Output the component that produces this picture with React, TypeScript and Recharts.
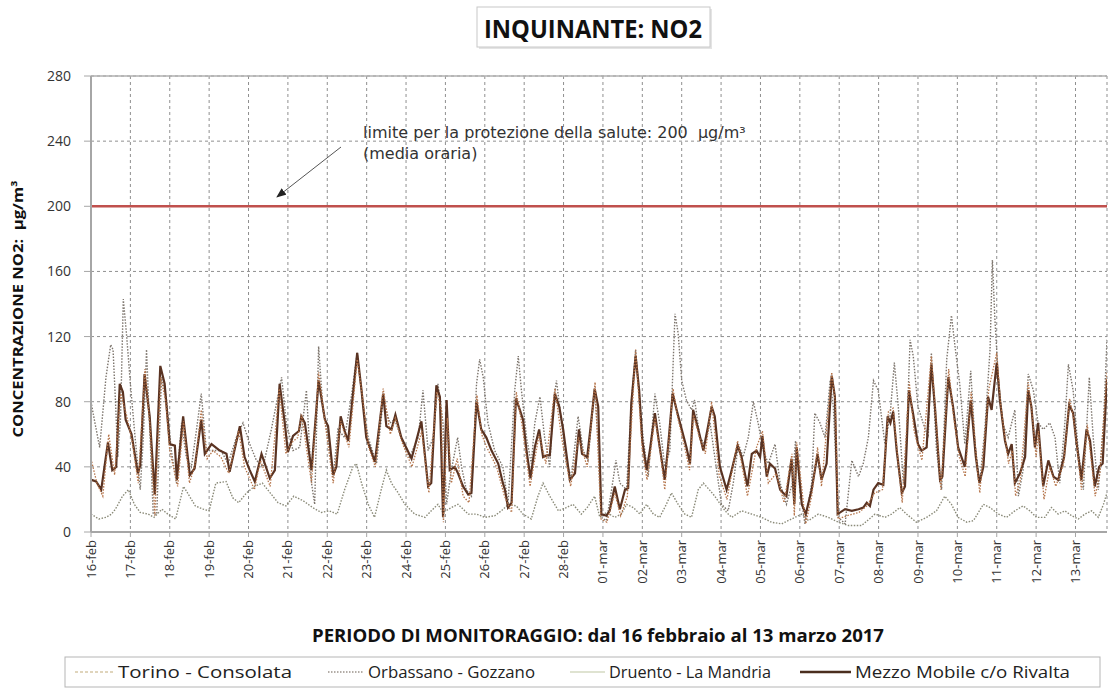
import React from "react";
import { LineChart, Line, XAxis, YAxis, CartesianGrid, ReferenceLine } from "recharts";

// ---- tick labels (one per day) ----
const dayLabels = [
  "16-feb", "17-feb", "18-feb", "19-feb", "20-feb", "21-feb", "22-feb", "23-feb", "24-feb",
  "25-feb", "26-feb", "27-feb", "28-feb", "01-mar", "02-mar", "03-mar", "04-mar", "05-mar",
  "06-mar", "07-mar", "08-mar", "09-mar", "10-mar", "11-mar", "12-mar", "13-mar",
];
const yTicks = [0, 40, 80, 120, 160, 200, 240, 280];
const limitValue = 200;

// ---- series: [day offset from 16-feb 00:00, NO2 µg/m³] ----
const mezzo: [number, number][] = [
  [0.01, 32], [0.13, 31], [0.26, 26], [0.43, 55], [0.54, 38], [0.64, 40], [0.73, 91], [0.81, 86], [0.88, 69],
  [1.03, 60], [1.11, 48], [1.19, 36], [1.25, 41], [1.36, 97], [1.49, 71], [1.62, 23], [1.76, 102], [1.87, 91],
  [2.0, 54], [2.13, 53], [2.18, 32], [2.34, 71], [2.51, 35], [2.63, 39], [2.8, 69], [2.89, 48],
  [3.06, 54], [3.27, 50], [3.44, 48], [3.52, 37], [3.78, 65], [3.9, 46],
  [4.03, 38], [4.16, 31], [4.33, 48], [4.54, 33], [4.67, 38], [4.79, 91], [4.92, 67],
  [5.0, 49], [5.13, 59], [5.28, 62], [5.34, 71], [5.43, 67], [5.6, 38], [5.78, 93], [5.94, 69],
  [6.02, 65], [6.15, 35], [6.23, 40], [6.34, 71], [6.44, 62], [6.53, 56], [6.76, 110], [6.87, 87], [6.99, 58],
  [7.21, 43], [7.42, 85], [7.5, 65], [7.63, 63], [7.73, 72], [7.88, 58],
  [8.14, 45], [8.39, 68], [8.56, 28], [8.64, 30], [8.77, 90], [8.86, 83], [8.94, 9],
  [9.03, 81], [9.11, 38], [9.24, 40], [9.32, 36], [9.45, 28], [9.58, 23], [9.66, 24], [9.79, 80], [9.91, 63],
  [10.04, 58], [10.17, 50], [10.34, 42], [10.46, 30], [10.51, 26], [10.59, 15], [10.68, 18], [10.79, 82], [10.89, 75], [10.97, 69],
  [11.06, 50], [11.16, 33], [11.27, 52], [11.38, 63], [11.48, 46], [11.57, 47], [11.65, 47], [11.78, 85], [11.89, 77], [11.99, 63],
  [12.16, 32], [12.29, 36], [12.39, 63], [12.47, 48], [12.6, 46], [12.68, 63], [12.79, 88], [12.88, 77], [12.96, 11],
  [13.09, 10], [13.17, 13], [13.3, 28], [13.43, 14], [13.56, 26], [13.64, 27], [13.72, 79], [13.83, 108], [13.92, 87],
  [14.0, 56], [14.11, 38], [14.19, 50], [14.32, 73], [14.43, 54], [14.57, 32], [14.66, 54], [14.77, 85], [14.87, 75],
  [15.0, 63], [15.12, 52], [15.21, 42], [15.29, 75], [15.42, 63], [15.55, 50], [15.67, 65], [15.76, 77], [15.84, 71], [15.97, 40],
  [16.14, 26], [16.27, 38], [16.42, 53], [16.52, 46], [16.67, 28], [16.78, 48], [16.9, 50], [16.99, 46],
  [17.05, 59], [17.16, 34], [17.24, 42], [17.37, 39], [17.5, 26], [17.66, 22], [17.79, 45], [17.86, 17], [17.92, 52],
  [18.05, 17], [18.15, 11], [18.3, 26], [18.45, 48], [18.55, 32], [18.68, 42], [18.81, 96], [18.89, 83], [18.96, 11],
  [19.15, 14], [19.32, 13], [19.49, 14], [19.61, 15], [19.7, 18], [19.78, 16], [19.87, 26], [19.99, 30],
  [20.12, 29], [20.23, 71], [20.3, 67], [20.37, 74], [20.46, 50], [20.59, 24], [20.67, 28], [20.77, 87], [20.88, 72],
  [21.0, 54], [21.09, 50], [21.22, 52], [21.34, 103], [21.43, 77], [21.56, 32], [21.62, 34], [21.77, 95], [21.89, 77],
  [22.02, 52], [22.19, 40], [22.34, 81], [22.47, 46], [22.56, 30], [22.66, 40], [22.78, 83], [22.87, 75],
  [23.0, 104], [23.08, 81], [23.21, 56], [23.29, 48], [23.38, 54], [23.46, 30], [23.59, 36], [23.72, 46], [23.8, 87], [23.88, 77], [23.97, 52],
  [24.05, 67], [24.18, 28], [24.31, 44], [24.44, 34], [24.56, 32], [24.71, 46], [24.84, 78], [24.94, 73],
  [25.01, 58], [25.15, 32], [25.28, 63], [25.37, 56], [25.49, 28], [25.6, 40], [25.69, 42], [25.8, 94],
];

const torino: [number, number][] = [
  [0, 45], [0.15, 30], [0.3, 22], [0.45, 60], [0.6, 35], [0.75, 85], [0.9, 72], [1.05, 55], [1.2, 30], [1.37, 100],
  [1.5, 65], [1.62, 10], [1.77, 95], [1.9, 80], [2.0, 50], [2.2, 28], [2.35, 68], [2.5, 30], [2.65, 42], [2.8, 75],
  [2.95, 45], [3.1, 50], [3.3, 46], [3.5, 36], [3.75, 62], [3.9, 40], [4.15, 26], [4.3, 44], [4.55, 28], [4.78, 88],
  [4.95, 48], [5.1, 55], [5.25, 58], [5.35, 72], [5.6, 30], [5.78, 98], [5.95, 66], [6.15, 30], [6.34, 68], [6.55, 52],
  [6.76, 106], [6.9, 82], [7.05, 52], [7.22, 40], [7.42, 88], [7.6, 60], [7.73, 70], [7.9, 55], [8.15, 40], [8.4, 62],
  [8.58, 24], [8.78, 86], [8.9, 75], [8.95, 6], [9.05, 70], [9.15, 30], [9.3, 45], [9.45, 22], [9.6, 18], [9.8, 84],
  [9.92, 60], [10.05, 52], [10.3, 40], [10.5, 22], [10.68, 12], [10.8, 86], [10.95, 65], [11.15, 28], [11.38, 60],
  [11.55, 42], [11.78, 88], [11.95, 58], [12.18, 28], [12.38, 58], [12.6, 40], [12.8, 92], [12.95, 8], [13.1, 6],
  [13.3, 24], [13.45, 10], [13.62, 22], [13.83, 112], [14.0, 50], [14.12, 32], [14.32, 70], [14.45, 50], [14.57, 26],
  [14.78, 88], [14.9, 70], [15.05, 55], [15.2, 38], [15.3, 72], [15.45, 58], [15.6, 48], [15.76, 80], [15.95, 35],
  [16.15, 20], [16.42, 56], [16.67, 22], [16.9, 52], [17.05, 62], [17.2, 30], [17.4, 36], [17.6, 18], [17.8, 48],
  [17.86, 10], [17.92, 55], [18.15, 5], [18.3, 22], [18.45, 52], [18.55, 28], [18.81, 98], [18.9, 80], [18.97, 8],
  [19.2, 10], [19.5, 12], [19.7, 16], [19.9, 24], [20.1, 26], [20.25, 74], [20.37, 76], [20.5, 42], [20.6, 18],
  [20.78, 92], [20.9, 62], [21.1, 44], [21.34, 108], [21.45, 72], [21.58, 26], [21.78, 100], [21.9, 72], [22.05, 46],
  [22.2, 34], [22.35, 86], [22.5, 40], [22.57, 24], [22.8, 88], [23.0, 110], [23.1, 78], [23.3, 42], [23.4, 50],
  [23.48, 22], [23.6, 32], [23.8, 92], [23.9, 72], [24.0, 46], [24.06, 62], [24.2, 20], [24.35, 40], [24.5, 28],
  [24.7, 42], [24.85, 82], [24.95, 70], [25.05, 50], [25.15, 26], [25.3, 66], [25.5, 22], [25.62, 36], [25.8, 98],
];

const orbassano: [number, number][] = [
  [0, 80], [0.1, 67], [0.22, 52], [0.38, 95], [0.5, 115], [0.56, 112], [0.62, 81], [0.68, 46], [0.75, 70], [0.82, 143],
  [0.9, 122], [1.0, 91], [1.12, 58], [1.25, 26], [1.33, 58], [1.41, 112], [1.5, 58], [1.58, 11], [1.67, 11], [1.79, 95],
  [1.91, 83], [2.04, 50], [2.17, 30], [2.3, 67], [2.42, 46], [2.55, 40], [2.68, 63], [2.8, 85], [2.93, 50], [3.1, 50],
  [3.3, 50], [3.48, 42], [3.69, 58], [3.86, 67], [4.03, 54], [4.2, 44], [4.37, 40], [4.58, 63], [4.71, 79], [4.84, 95],
  [4.96, 67], [5.13, 50], [5.3, 52], [5.47, 87], [5.6, 30], [5.68, 17], [5.78, 114], [5.89, 75], [6.02, 58], [6.15, 34],
  [6.27, 63], [6.44, 58], [6.61, 83], [6.76, 110], [6.91, 77], [7.04, 58], [7.25, 42], [7.42, 81], [7.59, 67], [7.71, 69],
  [7.88, 58], [8.09, 46], [8.31, 58], [8.43, 87], [8.56, 50], [8.69, 58], [8.81, 91], [8.94, 67], [9.03, 17], [9.15, 38],
  [9.31, 58], [9.41, 40], [9.53, 26], [9.66, 22], [9.79, 91], [9.87, 106], [9.96, 95], [10.08, 67], [10.25, 50], [10.46, 40],
  [10.59, 17], [10.76, 87], [10.85, 108], [10.93, 87], [11.06, 58], [11.18, 42], [11.27, 67], [11.4, 83], [11.52, 58],
  [11.65, 40], [11.73, 77], [11.82, 93], [11.95, 67], [12.07, 42], [12.2, 34], [12.37, 71], [12.5, 50], [12.62, 44],
  [12.79, 87], [12.88, 54], [12.96, 9], [13.09, 7], [13.22, 26], [13.33, 44], [13.43, 30], [13.6, 26], [13.72, 79],
  [13.83, 112], [13.94, 79], [14.02, 58], [14.15, 34], [14.32, 85], [14.44, 67], [14.57, 40], [14.7, 50], [14.83, 134],
  [14.91, 122], [15.0, 93], [15.12, 81], [15.25, 75], [15.33, 81], [15.46, 58], [15.59, 54], [15.72, 67], [15.84, 46],
  [16.01, 17], [16.18, 13], [16.31, 30], [16.44, 54], [16.56, 46], [16.69, 58], [16.82, 80], [16.94, 67], [17.07, 50],
  [17.2, 42], [17.37, 54], [17.5, 30], [17.66, 17], [17.81, 30], [17.89, 56], [18.0, 26], [18.13, 5], [18.3, 30],
  [18.38, 73], [18.51, 67], [18.64, 58], [18.77, 93], [18.85, 77], [18.98, 9], [19.15, 5], [19.32, 44], [19.49, 34],
  [19.61, 42], [19.74, 58], [19.87, 93], [19.99, 87], [20.16, 54], [20.29, 71], [20.4, 104], [20.5, 77], [20.63, 30],
  [20.71, 58], [20.8, 118], [20.88, 108], [21.0, 77], [21.13, 67], [21.26, 58], [21.34, 110], [21.47, 50], [21.6, 26],
  [21.73, 106], [21.85, 133], [21.94, 114], [22.06, 91], [22.19, 54], [22.34, 99], [22.45, 54], [22.57, 30], [22.7, 64],
  [22.83, 112], [22.89, 167], [22.95, 132], [23.04, 95], [23.16, 66], [23.29, 58], [23.46, 75], [23.55, 22], [23.67, 38],
  [23.8, 97], [23.93, 87], [24.05, 67], [24.18, 63], [24.35, 67], [24.48, 58], [24.6, 30], [24.73, 67], [24.82, 103],
  [24.94, 87], [25.07, 50], [25.2, 26], [25.35, 95], [25.45, 58], [25.58, 26], [25.71, 67], [25.8, 118],
];

const druento: [number, number][] = [
  [0, 11], [0.2, 8], [0.38, 9], [0.52, 11], [0.62, 14], [0.8, 22], [0.95, 26], [1.1, 17], [1.25, 12], [1.45, 11],
  [1.6, 9], [1.8, 14], [1.95, 11], [2.15, 8], [2.35, 28], [2.5, 22], [2.65, 16], [2.85, 14], [3.0, 13], [3.17, 30],
  [3.43, 31], [3.6, 21], [3.75, 18], [3.95, 24], [4.15, 28], [4.35, 30], [4.55, 24], [4.75, 18], [4.95, 16], [5.15, 22],
  [5.4, 19], [5.63, 15], [5.85, 12], [6.05, 13], [6.25, 11], [6.44, 26], [6.65, 40], [6.74, 42], [6.87, 30], [7.04, 17],
  [7.2, 9], [7.37, 26], [7.5, 38], [7.63, 30], [7.8, 24], [7.97, 17], [8.22, 11], [8.48, 9], [8.64, 13], [8.81, 17],
  [8.94, 12], [9.15, 15], [9.32, 17], [9.58, 11], [9.79, 11], [10.0, 9], [10.25, 10], [10.42, 13], [10.6, 17], [10.8, 16],
  [10.97, 11], [11.18, 8], [11.35, 22], [11.48, 30], [11.65, 22], [11.87, 13], [12.07, 15], [12.24, 17], [12.45, 11],
  [12.6, 15], [12.79, 22], [12.92, 9], [13.09, 12], [13.3, 9], [13.47, 11], [13.6, 17], [13.77, 15], [13.94, 11],
  [14.11, 17], [14.28, 11], [14.44, 9], [14.61, 17], [14.74, 24], [14.91, 17], [15.08, 11], [15.25, 9], [15.42, 26],
  [15.55, 30], [15.7, 26], [15.84, 22], [16.1, 13], [16.27, 9], [16.52, 13], [16.78, 11], [17.03, 9], [17.28, 6],
  [17.54, 5], [17.79, 8], [18.05, 11], [18.22, 7], [18.47, 11], [18.72, 9], [18.98, 6], [19.23, 4], [19.57, 4],
  [19.91, 11], [20.16, 9], [20.33, 11], [20.54, 15], [20.71, 11], [20.96, 6], [21.22, 9], [21.47, 13], [21.68, 22],
  [21.85, 17], [22.02, 9], [22.24, 6], [22.41, 7], [22.66, 17], [22.83, 15], [23.04, 11], [23.25, 9], [23.46, 13],
  [23.67, 16], [23.84, 13], [24.01, 9], [24.22, 9], [24.39, 15], [24.56, 11], [24.73, 13], [24.9, 10], [25.07, 8],
  [25.24, 11], [25.41, 13], [25.58, 9], [25.71, 17], [25.8, 24],
];

const toRows = (s: [number, number][]) => s.map(([d, v]) => ({ d, v }));
const dayTicks = dayLabels.map((_, i) => i);

const FONT = "'Open Sans', 'Noto Sans', sans-serif";
const NARROW = "'Liberation Sans Narrow', 'Open Sans', sans-serif";

const XTick = (props: any) => {
  const { x, y, payload } = props;
  return (
    <text
      x={x}
      y={y}
      transform={`rotate(-90, ${x}, ${y})`}
      textAnchor="end"
      dy="0.35em"
      fontSize={13}
      fontFamily={FONT}
      fill="#333"
    >
      {dayLabels[payload.value]}
    </text>
  );
};

const legendItems = [
  { name: "Torino - Consolata", color: "#d6c8a6", dash: "3 2", w: 1.5, lx: 75, tx: 118, tl: 174 },
  { name: "Orbassano - Gozzano", color: "#9a928a", dash: "1.5 1.5", w: 1.5, lx: 328, tx: 368, tl: 167 },
  { name: "Druento - La Mandria", color: "#d4dac2", dash: "", w: 1.5, lx: 570, tx: 609, tl: 162 },
  { name: "Mezzo Mobile c/o Rivalta", color: "#4a2e1e", dash: "", w: 2.5, lx: 800, tx: 855, tl: 215 },
];

export default function App() {
  return (
    <div style={{ position: "absolute", left: 0, top: 0, width: 1108, height: 690, background: "#fff" }}>
      <LineChart width={1108} height={690} margin={{ top: 76, right: 1, bottom: 98, left: 41 }}>
        <CartesianGrid stroke="#8f8f8f" strokeDasharray="3 3" strokeWidth={1} />
        <XAxis
          type="number"
          dataKey="d"
          domain={[0, 25.8]}
          allowDataOverflow
          ticks={dayTicks}
          interval={0}
          height={60}
          tick={<XTick />}
          tickSize={5}
          tickMargin={3}
          axisLine={{ stroke: "#a6a6a6", strokeWidth: 2 }}
          tickLine={{ stroke: "#a6a6a6" }}
        />
        <YAxis
          type="number"
          domain={[0, 280]}
          ticks={yTicks}
          width={50}
          tickSize={7}
          tickMargin={13}
          axisLine={{ stroke: "#a6a6a6", strokeWidth: 2 }}
          tickLine={{ stroke: "#a6a6a6" }}
          tick={{ fontSize: 14, fontFamily: FONT, fill: "#333" }}
        />
        <ReferenceLine y={280} stroke="#b0b0b0" strokeWidth={1.5} />
        <ReferenceLine y={limitValue} stroke="#c0504d" strokeWidth={2.5} />
        <Line data={toRows(druento)} dataKey="v" stroke="#8a8a78" strokeWidth={1.4} strokeDasharray="1.5 1.5" dot={false} isAnimationActive={false} />
        <Line data={toRows(orbassano)} dataKey="v" stroke="#7d756d" strokeWidth={1.4} strokeDasharray="1.5 1.5" dot={false} isAnimationActive={false} />
        <Line data={toRows(mezzo)} dataKey="v" stroke="#5a3322" strokeWidth={2.2} dot={false} isAnimationActive={false} />
        <Line data={toRows(torino)} dataKey="v" stroke="#b5744a" strokeWidth={1.3} strokeDasharray="1.5 1.5" dot={false} isAnimationActive={false} />
      </LineChart>

      <svg
        width={1108}
        height={690}
        style={{ position: "absolute", left: 0, top: 0, pointerEvents: "none" }}
      >
        <defs>
          <marker id="arr" markerWidth="10" markerHeight="8" refX="9" refY="4" orient="auto" markerUnits="userSpaceOnUse">
            <path d="M0,0 L10,4 L0,8 z" fill="#222" />
          </marker>
        </defs>
        {/* title box */}
        <rect x={479} y={9} width={233} height={40} fill="#e4e4e4" />
        <rect x={477} y={7} width={233} height={40} fill="#fff" stroke="#c8c8c8" strokeWidth={1} />
        <text x={593} y={38} textAnchor="middle" fontFamily={NARROW} fontWeight="bold" fontSize={25} fill="#111"
          textLength={218} lengthAdjust="spacingAndGlyphs">
          INQUINANTE: NO2
        </text>

        {/* annotation */}
        <text x={363} y={138} fontFamily="'DejaVu Sans', sans-serif" fontSize={16} fill="#333" xmlSpace="preserve">
          {"limite per la protezione della salute: 200  µg/m³"}
        </text>
        <text x={363} y={159} fontFamily="'DejaVu Sans', sans-serif" fontSize={16} fill="#333">
          (media oraria)
        </text>
        <line x1={341} y1={147} x2={277} y2={197} stroke="#555" strokeWidth={1} markerEnd="url(#arr)" />

        {/* y axis title */}
        <text x={0} y={0} transform="translate(23, 309) rotate(-90)" textAnchor="middle" fontFamily={NARROW}
          fontWeight="bold" fontSize={14} fill="#111" textLength={257} lengthAdjust="spacingAndGlyphs" xmlSpace="preserve">
          {"CONCENTRAZIONE NO2:  µg/m³"}
        </text>

        {/* x axis title */}
        <text x={598} y={642} textAnchor="middle" fontFamily={NARROW} fontWeight="bold" fontSize={18} fill="#111"
          textLength={572} lengthAdjust="spacingAndGlyphs">
          PERIODO DI MONITORAGGIO: dal 16 febbraio al 13 marzo 2017
        </text>

        {/* legend */}
        <rect x={65} y={657} width={1035} height={30} fill="#fff" stroke="#b5b5b5" strokeWidth={1} />
        {legendItems.map((it) => (
          <g key={it.name}>
            <line x1={it.lx} y1={672} x2={it.tx - 4} y2={672} stroke={it.color} strokeWidth={it.w}
              strokeDasharray={it.dash || undefined} />
            <text x={it.tx} y={678} fontFamily={NARROW} fontSize={17} fill="#222"
              textLength={it.tl} lengthAdjust="spacingAndGlyphs">
              {it.name}
            </text>
          </g>
        ))}
      </svg>
    </div>
  );
}
